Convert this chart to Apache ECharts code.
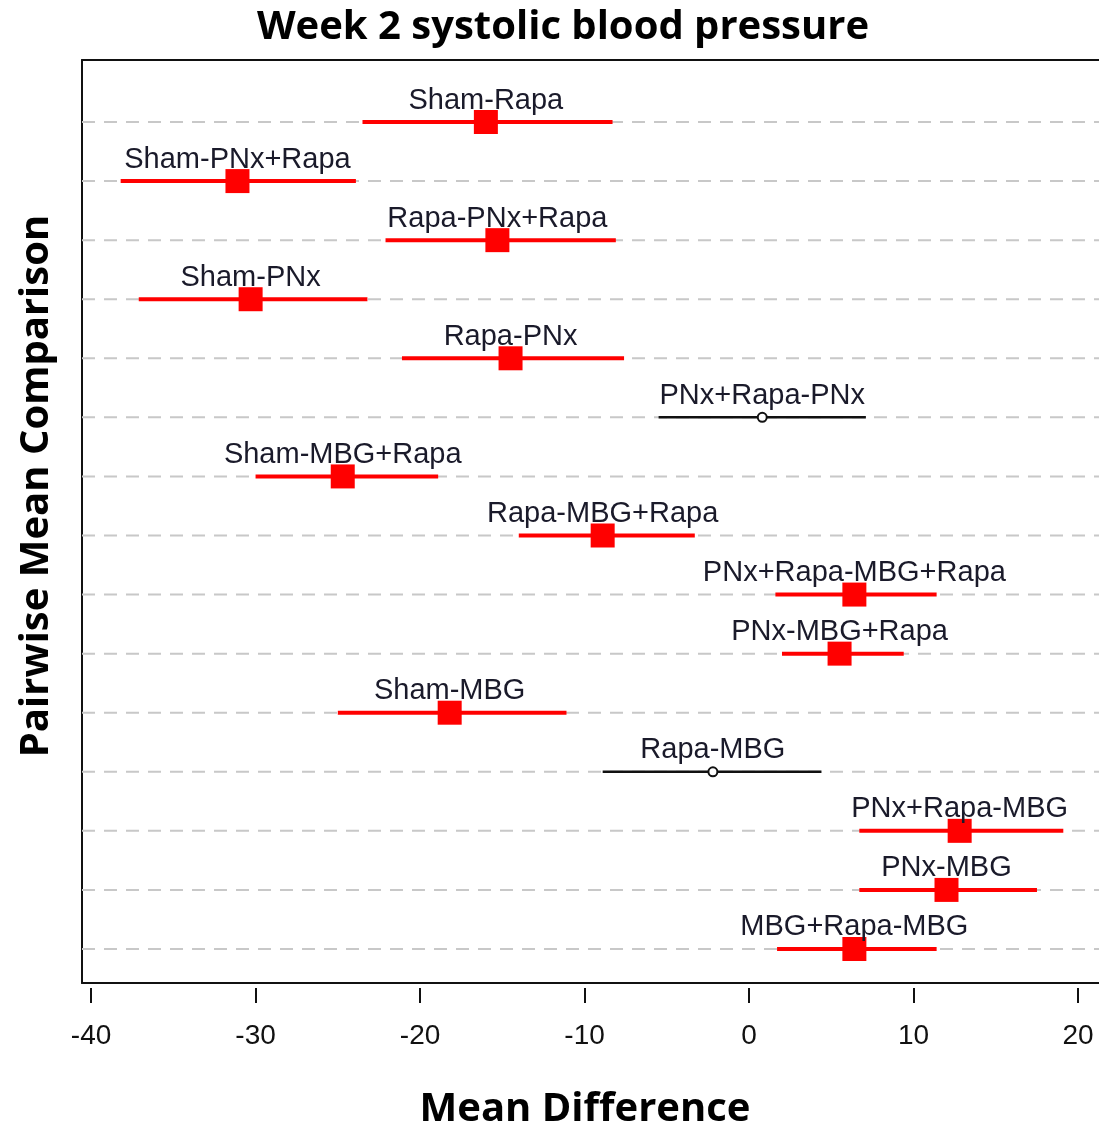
<!DOCTYPE html>
<html>
<head>
<meta charset="utf-8">
<script src="https://cdn.jsdelivr.net/npm/echarts@6/dist/echarts.min.js"></script>
<style>
  html, body { margin: 0; padding: 0; background: #fff; }
  #main { width: 1099px; height: 1134px; }
</style>
</head>
<body>
<div id="main"></div>
<script>
// comparisons, top to bottom
const comparisons = [
  "Sham-Rapa", "Sham-PNx+Rapa", "Rapa-PNx+Rapa", "Sham-PNx", "Rapa-PNx",
  "PNx+Rapa-PNx", "Sham-MBG+Rapa", "Rapa-MBG+Rapa", "PNx+Rapa-MBG+Rapa", "PNx-MBG+Rapa",
  "Sham-MBG", "Rapa-MBG", "PNx+Rapa-MBG", "PNx-MBG", "MBG+Rapa-MBG"
];
const estimate = [-16.0, -31.1, -15.3, -30.3, -14.5, 0.8, -24.7, -8.9, 6.4, 5.5, -18.2, -2.2, 12.8, 12.0, 6.4];
const lower = [-23.5, -38.2, -22.1, -37.1, -21.1, -5.5, -30.0, -14.0, 1.6, 2.0, -25.0, -8.9, 6.7, 6.7, 1.7];
const upper = [-8.3, -23.9, -8.1, -23.2, -7.6, 7.1, -18.9, -3.3, 11.4, 9.4, -11.1, 4.4, 19.1, 17.5, 11.4];
const significant = [1, 1, 1, 1, 1, 0, 1, 1, 1, 1, 1, 0, 1, 1, 1];
const xTicks = [-40, -30, -20, -10, 0, 10, 20];

const chartDom = document.getElementById("main");
const myChart = echarts.init(chartDom);

const nRows = comparisons.length;
const xMin = -40.55;
const xMax = 21.27;

// row position on the y value axis: first comparison at the top
const rowData = comparisons.map((name, i) => [
  nRows - i, lower[i], estimate[i], upper[i], significant[i]
]);

const frameLine = { show: true, onZero: false, lineStyle: { color: "#111", width: 2 } };
const hidden = { show: false };

const option = {
  backgroundColor: "#fff",
  animation: false,
  grid: { left: 82, top: 60, right: 0, height: 923 },
  xAxis: [
    {
      type: "value",
      min: xMin,
      max: xMax,
      position: "bottom",
      offset: 5,
      axisLine: { show: false, onZero: false },
      splitLine: hidden,
      axisTick: {
        show: true, length: 15, customValues: xTicks,
        lineStyle: { color: "#111", width: 2 }
      },
      axisLabel: {
        customValues: xTicks,
        margin: 34,
        fontSize: 28,
        color: "#111",
        fontFamily: "Liberation Sans, Arial, sans-serif"
      }
    },
    // box bottom and top
    {
      type: "value", min: xMin, max: xMax, position: "bottom",
      axisLine: frameLine, axisTick: hidden, axisLabel: hidden, splitLine: hidden
    },
    {
      type: "value", min: xMin, max: xMax, position: "top",
      axisLine: frameLine, axisTick: hidden, axisLabel: hidden, splitLine: hidden
    }
  ],
  yAxis: {
    type: "value",
    min: 0.424,
    max: 16.05,
    position: "left",
    axisLine: frameLine,
    axisTick: hidden,
    axisLabel: hidden,
    splitLine: hidden
  },
  graphic: [
    {
      type: "text", x: 563, y: 28,
      style: {
        text: "Week 2 systolic blood pressure",
        font: "bold 40px 'Open Sans', sans-serif", fill: "#000",
        align: "center", verticalAlign: "middle"
      }
    },
    {
      type: "text", x: 585, y: 1110,
      style: {
        text: "Mean Difference",
        font: "bold 40px 'Open Sans', sans-serif", fill: "#000",
        align: "center", verticalAlign: "middle"
      }
    },
    {
      type: "text", x: 37, y: 486, rotation: Math.PI / 2,
      style: {
        text: "Pairwise Mean Comparison",
        font: "bold 40px 'Open Sans', sans-serif", fill: "#000",
        align: "center", verticalAlign: "middle"
      }
    }
  ],
  series: [
    {
      // dashed reference line for each row
      type: "custom",
      data: rowData.map(r => [r[0]]),
      renderItem: function (params, api) {
        const a = api.coord([xMin, api.value(0)]);
        const b = api.coord([xMax, api.value(0)]);
        return {
          type: "line",
          shape: { x1: a[0], y1: a[1], x2: b[0], y2: b[1] },
          style: { stroke: "#c8c8c8", lineWidth: 2, lineDash: [13, 9] }
        };
      },
      z: 1
    },
    {
      // confidence interval, estimate and label
      type: "custom",
      data: rowData,
      renderItem: function (params, api) {
        const y = api.value(0);
        const lo = api.coord([api.value(1), y]);
        const mid = api.coord([api.value(2), y]);
        const hi = api.coord([api.value(3), y]);
        const sig = api.value(4) === 1;
        const color = sig ? "#ff0000" : "#111";
        const children = [
          {
            type: "line",
            shape: { x1: lo[0], y1: lo[1], x2: hi[0], y2: hi[1] },
            style: { stroke: color, lineWidth: sig ? 4 : 2.5 }
          },
          sig
            ? {
                type: "rect",
                shape: { x: mid[0] - 12, y: mid[1] - 12, width: 24, height: 24 },
                style: { fill: color }
              }
            : {
                type: "circle",
                shape: { cx: mid[0], cy: mid[1], r: 4.5 },
                style: { fill: "#fff", stroke: color, lineWidth: 2 }
              },
          {
            type: "text",
            x: mid[0], y: mid[1] - 7,
            style: {
              text: comparisons[params.dataIndex],
              font: "29px 'Liberation Sans', Arial, sans-serif",
              fill: "#1a1a2a",
              align: "center", verticalAlign: "bottom"
            },
            z2: 5
          }
        ];
        return { type: "group", children: children };
      },
      z: 3
    }
  ]
};

option && myChart.setOption(option);
</script>
</body>
</html>
